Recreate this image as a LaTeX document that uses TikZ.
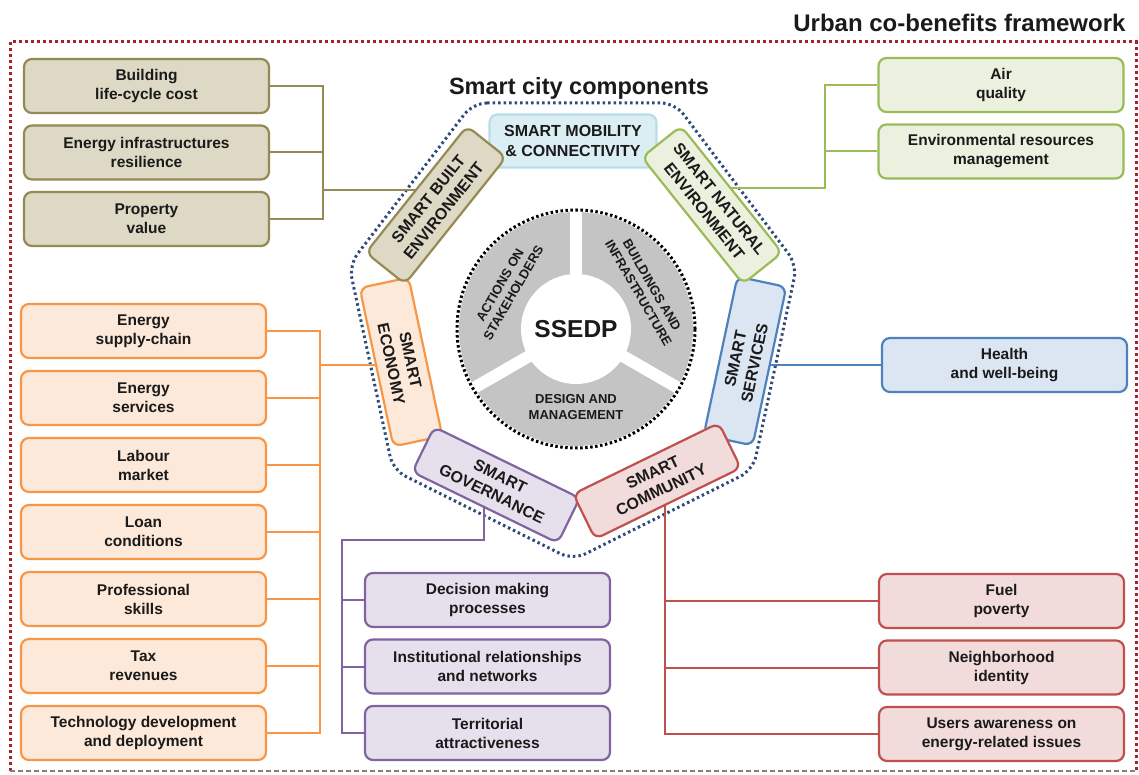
\documentclass[tikz,border=0pt]{standalone}
\usepackage{fontspec}
\setmainfont{Liberation Sans}
\usetikzlibrary{positioning}

\definecolor{oliveD}{HTML}{948A54}
\definecolor{oliveL}{HTML}{DDD9C4}
\definecolor{greenD}{HTML}{9BBB59}
\definecolor{greenL}{HTML}{EBF1DE}
\definecolor{orangeD}{HTML}{F79646}
\definecolor{orangeL}{HTML}{FDE9D9}
\definecolor{blueD}{HTML}{4F81BD}
\definecolor{blueL}{HTML}{DCE6F2}
\definecolor{skyD}{HTML}{B7DEE8}
\definecolor{skyL}{HTML}{DBEEF4}
\definecolor{redD}{HTML}{C0504D}
\definecolor{redL}{HTML}{F2DCDB}
\definecolor{purpleD}{HTML}{8064A2}
\definecolor{purpleL}{HTML}{E5E0EC}
\definecolor{frameR}{HTML}{A5242A}
\definecolor{heptB}{HTML}{2E4A7A}
\definecolor{sectG}{HTML}{C4C4C4}
\definecolor{txt}{HTML}{1A1A1A}

\pgfdeclarelayer{bg}
\pgfsetlayers{bg,main}

\begin{document}
\begin{tikzpicture}[x=1pt,y=1pt,node distance=66.5pt,on grid,
  every node/.style={text=txt},
  ben/.style={rectangle,rounded corners=8pt,draw=#1D,fill=#1L,line width=2.2pt,
    minimum width=245pt,minimum height=54pt,align=center,
    font=\fontsize{15.5}{19}\selectfont\bfseries},
  comp/.style={rectangle,rounded corners=8pt,draw=#1D,fill=#1L,line width=2.2pt,
    minimum width=162pt,minimum height=50pt,align=center,inner sep=2pt,
    font=\fontsize{16}{19.5}\selectfont\bfseries},
  link/.style={draw=#1D,line width=2pt},
  sect/.style={align=center,font=\fontsize{13}{15.5}\selectfont\bfseries}]
  \useasboundingbox (0,0) rectangle (1139,774);

  \node[anchor=east,font=\fontsize{24}{28}\selectfont\bfseries] (title) at (1129,751) {Urban co-benefits framework};
  \node[font=\fontsize{23.5}{28}\selectfont\bfseries] (sub) at (579,686) {Smart city components};

  % SSEDP wheel
  \coordinate (cc) at (576,445);
  \fill[sectG] (cc) circle (117);
  \foreach \a in {90,210,330}
    \draw[white,line width=12pt] (cc) -- ++(\a:119);
  \draw[black,line width=3pt,dash pattern=on 2.5pt off 2.5pt] (cc) circle (119);
  \node[circle,fill=white,minimum size=110pt,font=\fontsize{24.5}{28}\selectfont\bfseries] (ssedp) at (cc) {SSEDP};
  \node[sect,rotate=60] (act) at ([shift={(150:80)}]ssedp.center) {ACTIONS ON\\STAKEHOLDERS};
  \node[sect,rotate=-60] (bui) at ([shift={(30:80)}]ssedp.center) {BUILDINGS AND\\INFRASTRUCTURE};
  \node[sect] (des) at ([shift={(270:78)}]ssedp.center) {DESIGN AND\\MANAGEMENT};

  % components
  \node[comp=sky,minimum width=167pt,minimum height=53pt] (mob) at (573,633) {SMART MOBILITY\\\& CONNECTIVITY};
  \node[comp=orange,rotate=-78] (sec) at (401,412) {SMART\\ECONOMY};
  \node[comp=blue,rotate=78] (sse) at (745,413) {SMART\\SERVICES};
  \node[comp=olive,rotate=51.4] (sbe) at (436,569) {SMART BUILT\\ENVIRONMENT};
  \node[comp=green,rotate=-51.4] (sne) at (712,569) {SMART NATURAL\\ENVIRONMENT};
  \node[comp=purple,rotate=-26] (sgo) at (496,289) {SMART\\GOVERNANCE};
  \node[comp=red,rotate=26] (sco) at (657,293) {SMART\\COMMUNITY};

  % co-benefits
  \path
  node[ben=olive] (blc) at (146.5,688) {Building\\life-cycle cost}
  node[ben=olive,below=of blc] (eir) {Energy infrastructures\\resilience}
  node[ben=olive,below=of eir] (pva) {Property\\value}
  ;
  \path
  node[ben=green] (aqu) at (1001,689) {Air\\quality}
  node[ben=green,below=of aqu] (erm) {Environmental resources\\management}
  ;
  \path
  node[ben=orange] (esc) at (143.5,443) {Energy\\supply-chain}
  node[ben=orange,below=67pt of esc] (ese) {Energy\\services}
  node[ben=orange,below=67pt of ese] (lma) {Labour\\market}
  node[ben=orange,below=67pt of lma] (lco) {Loan\\conditions}
  node[ben=orange,below=67pt of lco] (psk) {Professional\\skills}
  node[ben=orange,below=67pt of psk] (tre) {Tax\\revenues}
  node[ben=orange,below=67pt of tre] (tdd) {Technology development\\and deployment}
  ;
  \path
  node[ben=blue] (hwb) at (1004.5,409) {Health\\and well-being}
  ;
  \path
  node[ben=purple] (dmp) at (487.5,174) {Decision making\\processes}
  node[ben=purple,below=of dmp] (irn) {Institutional relationships\\and networks}
  node[ben=purple,below=of irn] (tat) {Territorial\\attractiveness}
  ;
  \path
  node[ben=red] (fpo) at (1001.5,173) {Fuel\\poverty}
  node[ben=red,below=of fpo] (nid) {Neighborhood\\identity}
  node[ben=red,below=of nid] (uae) {Users awareness on\\energy-related issues}
  ;

  \begin{pgfonlayer}{bg}
    \draw[frameR,line width=3pt,dash pattern=on 3pt off 3pt] (10,3) -- (10,732) -- (1136,732) -- (1136,3);
    \draw[gray,line width=1.3pt,dash pattern=on 5pt off 3pt] (10,3) -- (1136,3);
    \draw[heptB,line width=3pt,dash pattern=on 2.5pt off 3pt,rounded corners=14pt]
      (473,671) -- (675,671) -- (797,509) -- (753,304) -- (573,214) -- (393,304) -- (349,509) -- cycle;

    \coordinate (oj) at (323,584);
    \draw[link=olive] (blc.east) -| (oj |- pva.east) -- (pva.east);
    \draw[link=olive] (eir.east) -- (eir.east -| oj);
    \draw[link=olive] (oj) -- (oj -| sbe.center);

    \coordinate (gj) at (825,586);
    \draw[link=green] (aqu.west) -| (gj) -- (gj -| sne.center);
    \draw[link=green] (erm.west) -- (erm.west -| gj);

    \coordinate (rj) at (320,409);
    \draw[link=orange] (esc.east) -| (rj |- tdd.east) -- (tdd.east);
    \foreach \b in {ese,lma,lco,psk,tre}
      \draw[link=orange] (\b.east) -- (\b.east -| rj);
    \draw[link=orange] (rj) -- (rj -| sec.center);

    \draw[link=blue] (hwb.west) -- (hwb.west -| sse.center);

    \coordinate (pj) at (484,234);
    \coordinate (pt) at (342,234);
    \draw[link=purple] (pj |- sgo.center) -- (pj) -- (pt) |- (tat.west);
    \draw[link=purple] (dmp.west) -- (dmp.west -| pt);
    \draw[link=purple] (irn.west) -- (irn.west -| pt);

    \coordinate (cj) at (665,293);
    \draw[link=red] (cj) |- (uae.west);
    \draw[link=red] (fpo.west) -- (fpo.west -| cj);
    \draw[link=red] (nid.west) -- (nid.west -| cj);
  \end{pgfonlayer}
\end{tikzpicture}
\end{document}
